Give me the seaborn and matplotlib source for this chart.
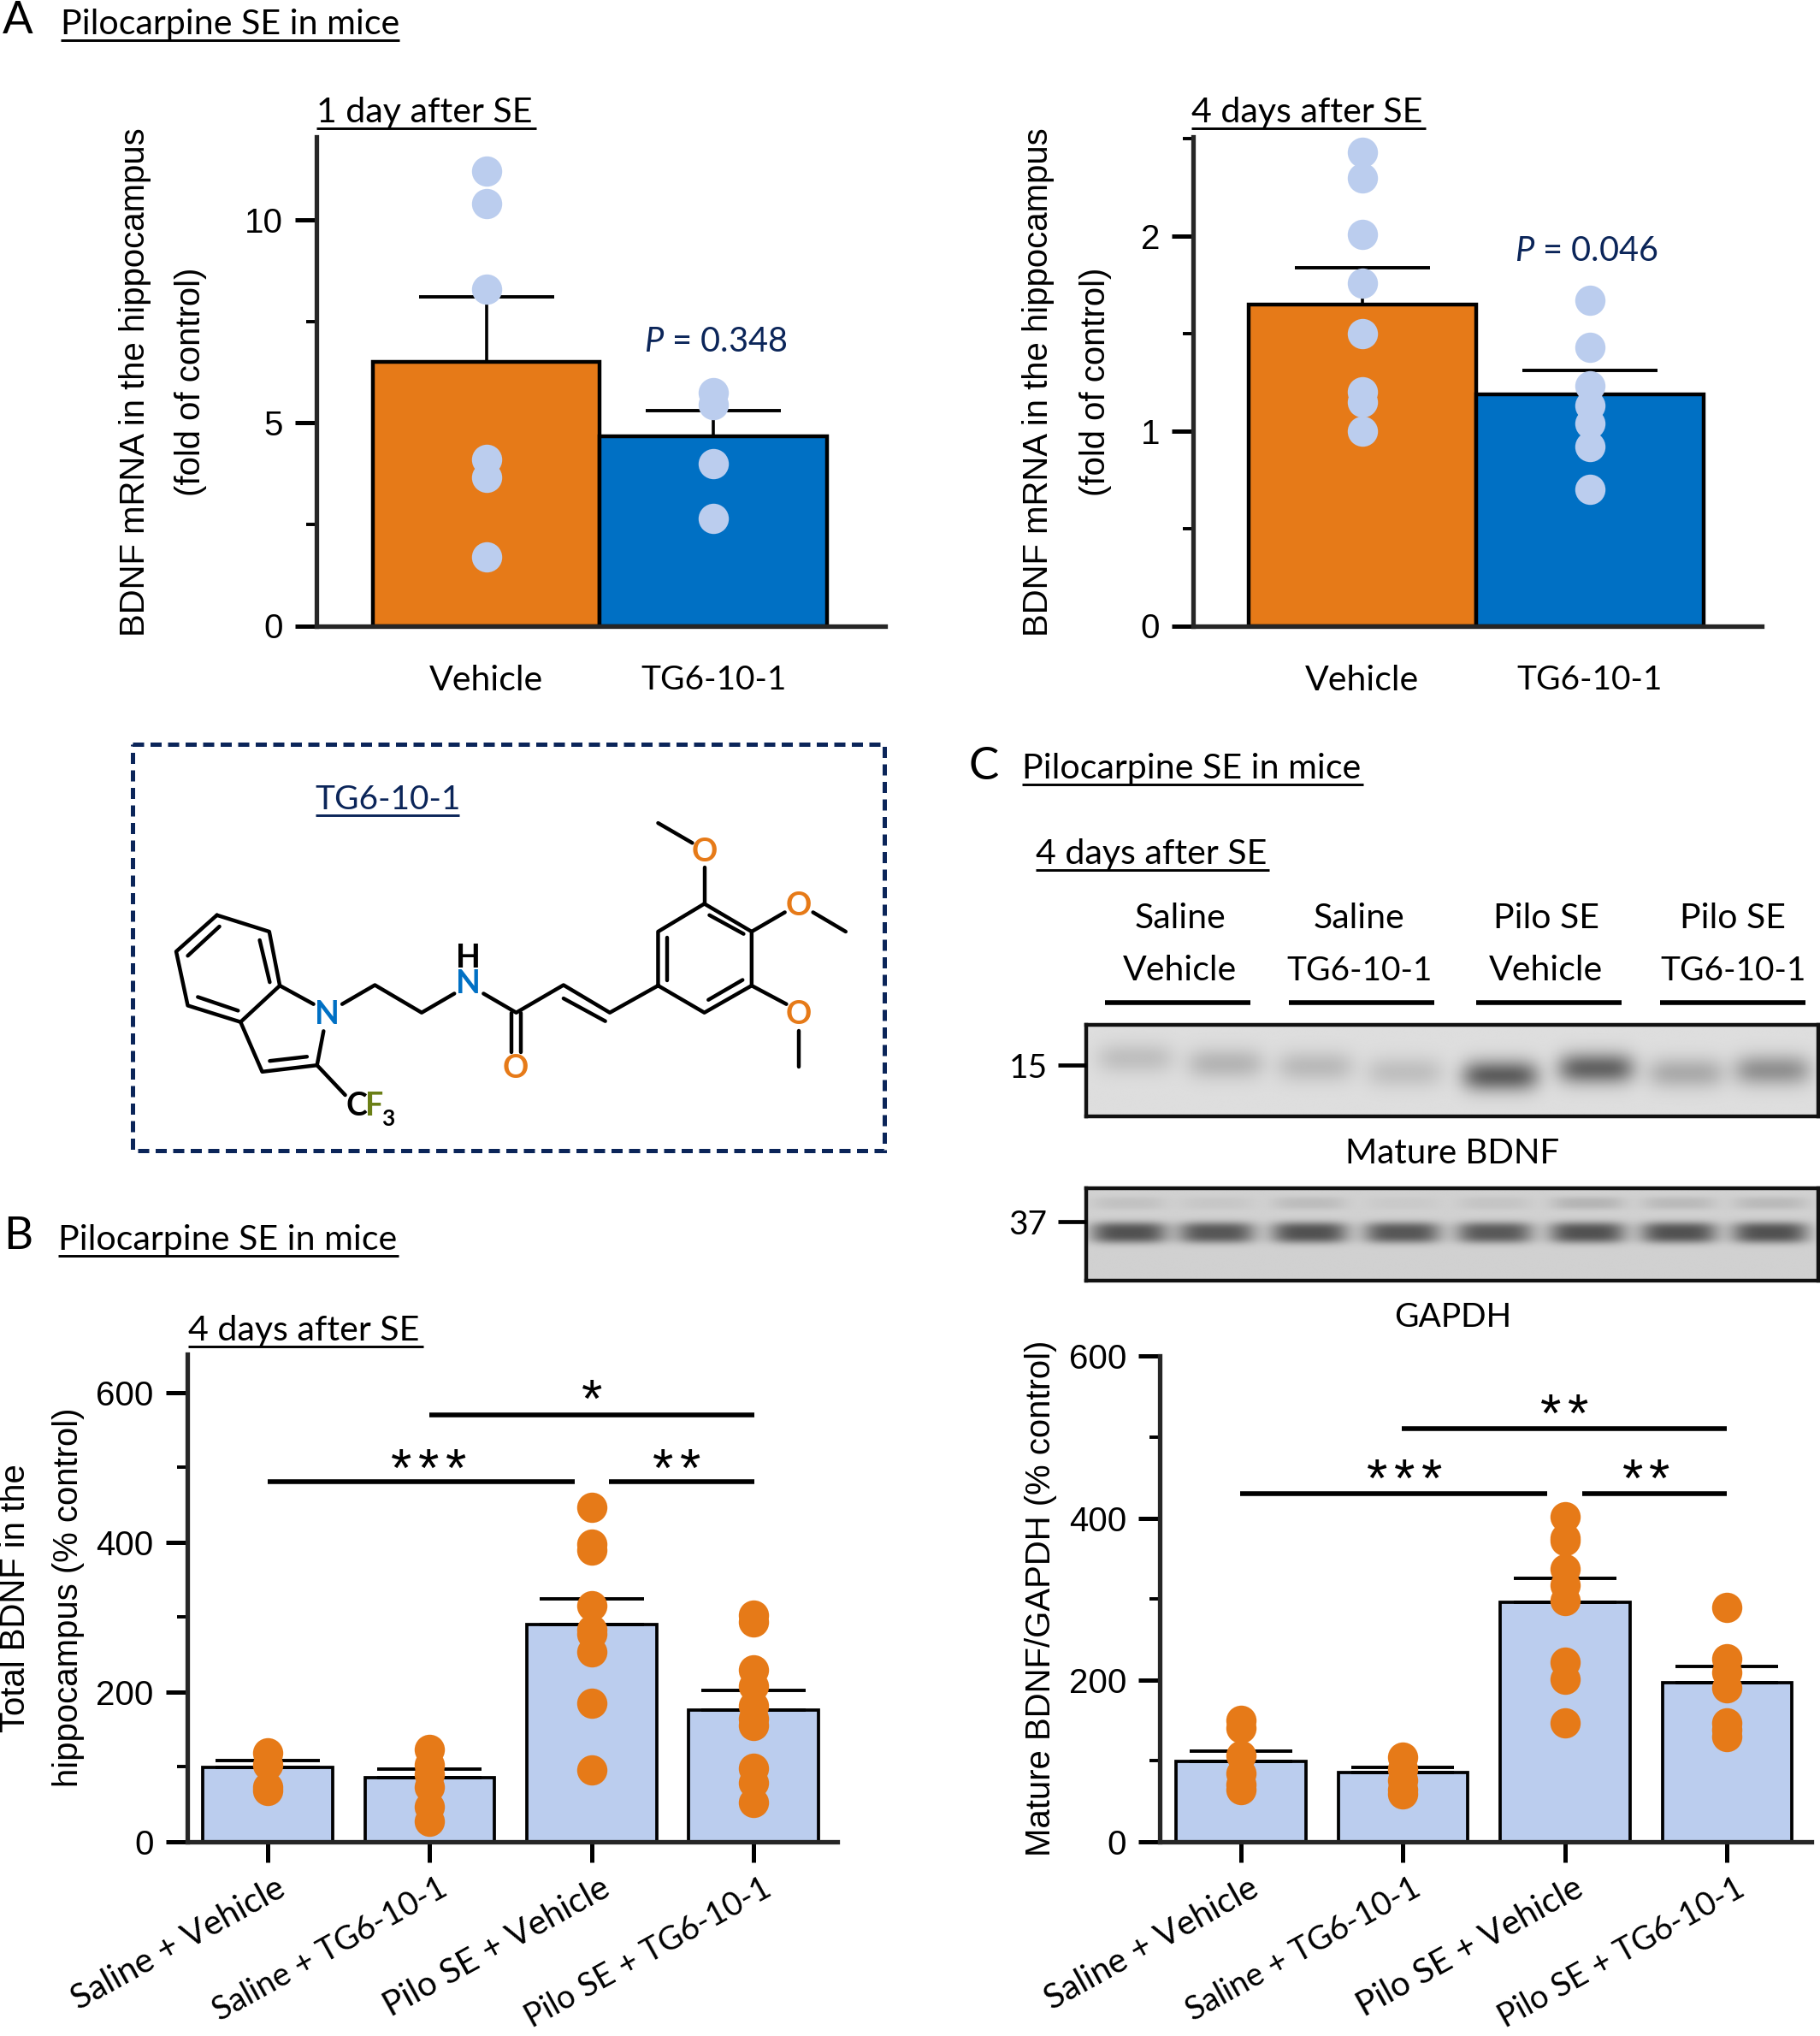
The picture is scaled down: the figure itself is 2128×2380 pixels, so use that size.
import numpy as np
import pandas as pd
import seaborn as sns
import matplotlib
matplotlib.use("Agg")
import matplotlib.pyplot as plt
from matplotlib.transforms import ScaledTranslation
from matplotlib.patches import Rectangle

sns.set_theme(style="ticks")
plt.rcParams['font.family'] = ['Lato', 'DejaVu Sans']
plt.rcParams['mathtext.fontset'] = 'custom'
plt.rcParams['mathtext.it'] = 'Lato:italic'
plt.rcParams['mathtext.rm'] = 'Lato'

ORANGE = '#E67A18'
BLUE = '#0070C4'
LIGHT = '#BBCDEE'
NAVY = '#0B2559'
W, H = 2128, 2380

# ---- Data ----
a_cats = ['Vehicle', 'TG6-10-1']
a1_means = [6.5, 4.67]
a1_tops = [8.1, 5.3]
a1_vehicle = [11.2, 10.4, 8.3, 4.1, 3.65, 1.7]
a1_tg = [5.75, 5.45, 4.0, 2.65]

a2_means = [1.65, 1.19]
a2_tops = [1.84, 1.31]
a2_vehicle = [2.43, 2.3, 2.01, 1.76, 1.5, 1.2, 1.15, 1.0]
a2_tg = [1.67, 1.43, 1.23, 1.13, 1.04, 0.92, 0.70]

four_cats = ['Saline + Vehicle', 'Saline + TG6-10-1', 'Pilo SE + Vehicle', 'Pilo SE + TG6-10-1']
b_means = [99, 86, 290, 176]
b_tops = [108, 97, 324, 202]
b_pts = [
    [119, 103, 73, 68],
    [123, 103, 90, 73, 47, 27],
    [446, 398, 390, 315, 283, 277, 254, 185, 96],
    [303, 293, 230, 208, 182, 165, 155, 98, 79, 52],
]
c_means = [99, 86, 296, 197]
c_tops = [112, 92, 326, 217]
c_pts = [
    [150, 141, 107, 85, 71, 64],
    [105, 90, 76, 65, 59],
    [402, 375, 372, 337, 317, 298, 222, 201, 147],
    [290, 226, 209, 190, 147, 139, 130],
]

fig = plt.figure(figsize=(W / 100, H / 100), dpi=100, facecolor='white')


def px_axes(l, t, r, b, **kw):
    return fig.add_axes([l / W, 1 - b / H, (r - l) / W, (b - t) / H], **kw)


def bars(ax, cats, means, tops, pts, colors, dot, width, cap, xlim, ylim, major, minor, edge):
    df = pd.DataFrame({'group': cats, 'value': means})
    sns.barplot(data=df, x='group', y='value', hue='group', order=cats, hue_order=cats,
                palette=colors, width=width, edgecolor='black', linewidth=edge,
                errorbar=None, legend=False, saturation=1, ax=ax, zorder=2)
    lower = [0] * len(means)
    upper = [t - m for t, m in zip(tops, means)]
    ax.errorbar(range(len(cats)), means, yerr=[lower, upper], fmt='none', ecolor='black',
                elinewidth=2.6, capsize=cap, capthick=2.8, zorder=2.5)
    long = pd.DataFrame({'group': [c for c, p in zip(cats, pts) for _ in p],
                         'value': [v for p in pts for v in p]})
    sns.stripplot(data=long, x='group', y='value', order=cats, color=dot, size=25.5,
                  jitter=False, linewidth=0, ax=ax, zorder=5)
    for coll in ax.collections:
        coll.set_clip_on(False)
    ax.set_xlim(*xlim)
    ax.set_ylim(*ylim)
    ax.set_yticks(major)
    ax.set_yticks(minor, minor=True)
    ax.set_xlabel('')
    ax.set_ylabel('')
    ax.patch.set_alpha(0)
    for s in ['top', 'right']:
        ax.spines[s].set_visible(False)
    for s in ['left', 'bottom']:
        ax.spines[s].set_linewidth(3.8)
    ax.tick_params(axis='y', which='major', length=18, width=3.6, labelsize=29, pad=10, color='black')
    ax.tick_params(axis='y', which='minor', length=9, width=2.8, color='black')
    for lab in ax.get_yticklabels():
        lab.set_fontfamily(['Liberation Sans'])
        lab.set_color('black')


def rotate_labels(ax, dx_px):
    ax.tick_params(axis='x', length=17, width=3.6, pad=20, color='black')
    ax.set_xticks(range(4))
    ax.set_xticklabels(four_cats, rotation=29, ha='right', va='center',
                       rotation_mode='anchor', fontsize=29, color='black')
    off = ScaledTranslation(dx_px / 100, 0, fig.dpi_scale_trans)
    for lab in ax.get_xticklabels():
        lab.set_transform(lab.get_transform() + off)
        if 'TG6' in lab.get_text():
            lab.set_fontsize(27.4)


# Panel A
ax1 = px_axes(370, 160, 1035, 731.5)
bars(ax1, a_cats, a1_means, a1_tops, [a1_vehicle, a1_tg], [ORANGE, BLUE], LIGHT,
     1.0, 57, (-0.749, 1.757), (0, 12.05), [0, 5, 10], [2.5, 7.5], 3.2)
ax2 = px_axes(1395, 160, 2060, 731.5)
bars(ax2, a_cats, a2_means, a2_tops, [a2_vehicle, a2_tg], [ORANGE, BLUE], LIGHT,
     1.0, 57, (-0.744, 1.756), (0, 2.51), [0, 1, 2], [0.5, 1.5, 2.5], 3.2)
for ax in (ax1, ax2):
    ax.tick_params(axis='x', length=0, pad=33)
    ax.set_xticks(range(2))
    ax.set_xticklabels(a_cats, fontsize=29.5, color='black')
    ax.get_xticklabels()[1].set_fontsize(28)

# Panel B
ax3 = px_axes(218.5, 1583, 979, 2153)
bars(ax3, four_cats, b_means, b_tops, b_pts, [LIGHT] * 4, ORANGE,
     0.8, 44, (-0.498, 3.516), (0, 651), [0, 200, 400, 600], [100, 300, 500], 2.7)
rotate_labels(ax3, 18)

# Panel C
ax4 = px_axes(1356, 1585.5, 2118, 2153)
bars(ax4, four_cats, c_means, c_tops, c_pts, [LIGHT] * 4, ORANGE,
     0.8, 43, (-0.5, 3.52), (0, 600), [0, 200, 400, 600], [100, 300, 500], 2.7)
rotate_labels(ax4, 18)

# Western blots (band centre as a fraction of the blot, and darkness)
blot1_x = [0.067, 0.19, 0.313, 0.435, 0.566, 0.697, 0.82, 0.938]
blot1_y = [0.37, 0.43, 0.46, 0.52, 0.56, 0.48, 0.53, 0.50]
blot1_d = [0.12, 0.16, 0.14, 0.12, 0.50, 0.48, 0.20, 0.30]
blot2_x = [0.058, 0.178, 0.305, 0.432, 0.558, 0.685, 0.81, 0.935]
blot2_d = [0.50, 0.48, 0.50, 0.48, 0.47, 0.50, 0.50, 0.50]
blot2_f = [0.06, 0.04, 0.08, 0.03, 0.05, 0.11, 0.09, 0.09]


def blot(ax, base, rows, power):
    yy, xx = np.mgrid[0:1:160j, 0:1:860j]
    img = np.full_like(xx, base)
    for x0, y0, d, sx, sy in rows:
        img -= d * np.exp(-(np.abs(xx - x0) / sx) ** 4 - (np.abs(yy - y0) / sy) ** power)
    ax.imshow(img, cmap='gray', vmin=0, vmax=1, aspect='auto', extent=(0, 1, 1, 0))
    ax.set_xticks([])
    ax.set_yticks([])
    for s in ax.spines.values():
        s.set_visible(True)
        s.set_linewidth(3.2)
        s.set_color('#111111')


b1 = px_axes(1270, 1198, 2126, 1305)
blot(b1, 0.87, [(x, y, d, 0.052, 0.17) for x, y, d in zip(blot1_x, blot1_y, blot1_d)], 2)
b2 = px_axes(1270, 1389, 2126, 1497)
blot(b2, 0.82, [(x, 0.48, d, 0.052, 0.115) for x, d in zip(blot2_x, blot2_d)]
     + [(x, 0.16, d, 0.05, 0.07) for x, d in zip(blot2_x, blot2_f)], 3)

# Overlay for text and schematic, in 1402-wide layout units
ov = fig.add_axes([0, 0, 1, 1], zorder=20)
ov.set_xlim(0, 1402)
ov.set_ylim(1568, 0)
ov.axis('off')


def label(x, y, s, size=29.5, color='black', ha='left', va='baseline', family=None, **kw):
    ov.text(x, y, s, fontsize=size, color=color, ha=ha, va=va,
            fontfamily=family or ['Lato', 'DejaVu Sans'], **kw)


def header(x0, x1, y, s, size=29.6, color='black'):
    label(x0, y - 4.5, s, size=size, color=color)
    ov.plot([x0, x1], [y, y], color=color, lw=2.1, solid_capstyle='butt')


for s, x, y in [('A', 2, 26), ('B', 3, 962), ('C', 746, 600)]:
    label(x, y, s, size=38)
header(47, 308, 31, 'Pilocarpine SE in mice')
header(244, 413, 99, '1 day after SE')
header(918, 1098, 99, '4 days after SE')
header(45, 307, 967, 'Pilocarpine SE in mice')
header(145, 326, 1037, '4 days after SE')
header(787, 1050, 604, 'Pilocarpine SE in mice')
header(798, 978, 670, '4 days after SE')
header(243, 354, 628, 'TG6-10-1', size=28, color=NAVY)

LS = ['Liberation Sans']
for x, yc, s in [(104, 294, 'BDNF mRNA in the hippocampus'), (147, 294, '(fold of control)'),
                 (800, 294, 'BDNF mRNA in the hippocampus'), (844, 294, '(fold of control)'),
                 (12, 1231, 'Total BDNF in the'), (53, 1230, 'hippocampus (% control)'),
                 (802, 1231, 'Mature BDNF/GAPDH (% control)')]:
    label(x, yc, s, size=28.9, ha='center', va='center', rotation=90, family=LS)

label(496, 271, r'$\mathit{P}$ = 0.348', size=28.6, color=NAVY)
label(1167, 201, r'$\mathit{P}$ = 0.046', size=28.6, color=NAVY)

# Significance bars
for x0, x1, y in [(206, 443, 1141), (469, 581, 1141), (331, 581, 1090),
                  (955, 1192, 1150), (1219, 1330, 1150), (1080, 1330, 1100)]:
    ov.plot([x0, x1], [y, y], color='black', lw=4, solid_capstyle='butt')
for x, y, n in [(330, 1124.5, 3), (521, 1124.5, 2), (456, 1071, 1),
                (1082, 1132, 3), (1268, 1132, 2), (1205, 1082, 2)]:
    for i in range(n):
        label(x + (i - (n - 1) / 2) * 21, y + 20, '*', size=45, ha='center', family=LS)

# Blot labels
for x, top, bot in [(909, 'Saline', 'Vehicle'), (1047, 'Saline', 'TG6-10-1'),
                    (1191, 'Pilo SE', 'Vehicle'), (1335, 'Pilo SE', 'TG6-10-1')]:
    label(x, 715, top, ha='center')
    label(x, 755, bot, size=28 if 'TG6' in bot else 29.5, ha='center')
for x0, x1 in [(851, 963), (993, 1105), (1137, 1249), (1279, 1391)]:
    ov.plot([x0, x1], [772, 772], color='black', lw=4, solid_capstyle='butt')
label(777, 830, '15', size=28)
label(777, 951, '37', size=28)
ov.plot([815, 837], [820, 820], color='black', lw=3.4, solid_capstyle='butt')
ov.plot([815, 837], [941, 941], color='black', lw=3.4, solid_capstyle='butt')
label(1119, 896, 'Mature BDNF', size=29, ha='center')
label(1119, 1022, 'GAPDH', size=28, ha='center')

# Structure of TG6-10-1 (drawn in crop units, mapped to the layout)
mx = lambda v: 102 + (v - 25) * 0.3875
my = lambda v: 573 + (v - 30) * 0.2189
bonds = [
    [(193, 632), (297, 690), (318, 880), (240, 1008), (135, 950), (112, 760), (193, 632)],
    [(198, 672), (135, 775)], [(278, 720), (298, 868)], [(155, 920), (235, 968)],
    [(318, 880), (385, 945)], [(240, 1008), (283, 1183), (392, 1160), (405, 1040)],
    [(298, 1145), (372, 1130)], [(392, 1160), (448, 1265)],
    [(442, 945), (507, 878), (600, 975), (665, 908)],
    [(723, 908), (788, 975), (882, 878), (974, 975), (1070, 880)], [(882, 925), (965, 1005)],
    [(778, 975), (778, 1115)], [(797, 975), (797, 1115)],
    [(1070, 880), (1070, 690), (1162, 592), (1256, 690), (1256, 880), (1162, 975), (1070, 880)],
    [(1088, 710), (1088, 860)], [(1172, 632), (1240, 698)], [(1170, 930), (1238, 860)],
    [(1162, 592), (1162, 465)], [(1138, 378), (1070, 308)],
    [(1256, 690), (1322, 622)], [(1378, 622), (1443, 690)],
    [(1256, 880), (1325, 945)], [(1350, 1038), (1350, 1165)],
]
for b in bonds:
    ov.plot([mx(p[0]) for p in b], [my(p[1]) for p in b], color='black', lw=3.2,
            solid_capstyle='round', solid_joinstyle='round')
atoms = [('N', 412, 982, BLUE), ('N', 693, 875, BLUE), ('H', 693, 782, 'black'),
         ('O', 787, 1172, ORANGE), ('O', 1162, 410, ORANGE), ('O', 1349, 600, ORANGE),
         ('O', 1349, 982, ORANGE), ('C', 470, 1305, 'black'), ('F', 506, 1305, '#6B7F16')]
for s, x, y, c in atoms:
    label(mx(x), my(y), s, size=27, color=c, ha='center', va='center', fontweight='bold')
label(mx(533), my(1348), '3', size=19, ha='center', va='center', fontweight='bold')

ov.add_patch(Rectangle((102, 573), 579, 313, fill=False, edgecolor=NAVY, lw=3.6,
                       linestyle=(0, (2.6, 1.5))))

fig.savefig('out.png', dpi=100, facecolor='white')
